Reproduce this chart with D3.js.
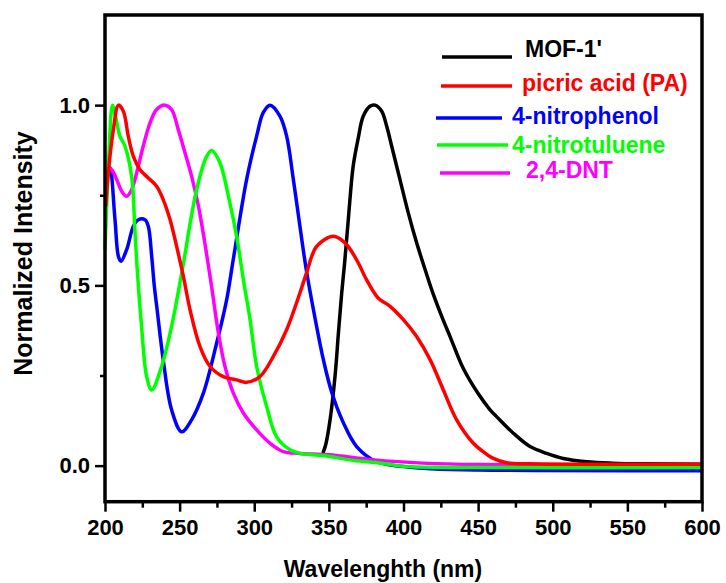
<!DOCTYPE html>
<html>
<head>
<meta charset="utf-8">
<script src="https://cdn.jsdelivr.net/npm/d3@7"></script>
<style>
  body { margin: 0; background: #fff; }
  svg { font-family: "Liberation Sans", Arial, sans-serif; font-weight: bold; }
</style>
</head>
<body>
<svg id="chart" width="726" height="583"></svg>
<script>
// spectra: [wavelength nm, normalized intensity]
var mof = [[346, 0.035], [348, 0.06], [350.8, 0.127], [354.1, 0.247], [356.4, 0.368], [358.6, 0.479],
  [360.5, 0.56], [363, 0.682], [366.3, 0.831], [369.7, 0.909], [373, 0.969], [377.5, 0.997], [380.9, 1.0],
  [385.4, 0.983], [388.7, 0.942], [392.1, 0.886], [397.6, 0.794], [403.2, 0.701], [408.8, 0.618],
  [414.4, 0.545], [420, 0.475], [426, 0.41], [431.2, 0.358], [440, 0.27], [450, 0.2],
  [458, 0.155], [462.4, 0.136], [473.6, 0.09], [484.8, 0.053], [496, 0.034], [507, 0.02], [522.7, 0.011],
  [540, 0.007], [560, 0.005], [600, 0.004]]
var picric = [[200.5, 0.72], [202.2, 0.812], [205.6, 0.932], [209, 1.0], [212.3, 0.983], [215.6, 0.914],
  [219, 0.858], [223.5, 0.821], [229, 0.798], [234.6, 0.775], [239, 0.738], [243.6, 0.682], [248, 0.608],
  [252.5, 0.525], [257, 0.432], [263.6, 0.331], [270.4, 0.275], [279.2, 0.247], [288.2, 0.238], [294.9, 0.231],
  [303.8, 0.247], [312.8, 0.303], [321.7, 0.377], [330.6, 0.479], [335, 0.534], [341.8, 0.608], [352.9, 0.636],
  [360.8, 0.618], [368.6, 0.571], [375.2, 0.516], [383, 0.465], [391, 0.442], [399.9, 0.405], [408.8, 0.358],
  [417.8, 0.294], [426.7, 0.21], [435.6, 0.127], [446.8, 0.062], [453, 0.04], [460.2, 0.02], [469, 0.008],
  [484.8, 0.005], [600, 0.004]]
var nitrophenol = [[202, 0.81], [203.4, 0.826], [206.7, 0.682], [209, 0.58], [210.7, 0.567], [214.5, 0.599],
  [219, 0.664], [222.3, 0.682], [226.8, 0.682], [229, 0.664], [231.3, 0.58], [233, 0.5], [235, 0.43],
  [239, 0.294], [244.6, 0.155], [251.4, 0.094], [258, 0.127], [265.9, 0.201], [274.8, 0.34], [281.5, 0.46],
  [285.9, 0.571], [294.9, 0.794], [301.6, 0.914], [306, 0.979], [310.6, 1.0], [317.3, 0.969], [321.7, 0.914],
  [326.2, 0.794], [330.6, 0.664], [335, 0.54], [341.8, 0.386], [346.3, 0.294], [351.8, 0.205],
  [359.6, 0.12], [368.6, 0.053], [382, 0.011], [413, -0.007], [450, -0.012], [600, -0.014]]
var nitrotoluene = [[200, 0.6], [202.5, 0.85], [205, 1.0], [207, 0.97], [210, 0.914], [213.4, 0.886],
  [217.9, 0.8], [220, 0.655], [221.5, 0.55], [224.5, 0.386], [227.9, 0.247], [231.3, 0.21], [237.9, 0.275],
  [244.6, 0.386], [251.4, 0.534], [261.4, 0.766], [268.1, 0.858], [271.5, 0.874], [277, 0.84], [282.7, 0.747],
  [288.2, 0.636], [292.7, 0.516], [297.2, 0.405], [301.6, 0.275], [308.3, 0.164], [315, 0.08], [324, 0.044],
  [330.6, 0.034], [346, 0.028], [366, 0.015], [386.5, 0.006], [400, -0.002], [430, -0.005], [600, -0.005]]
var dnt = [[202, 0.826], [204.5, 0.821], [207.8, 0.794], [211.2, 0.761], [214.5, 0.747], [217.9, 0.766],
  [221.2, 0.812], [225.6, 0.886], [230.2, 0.951], [234.6, 0.988], [240.2, 1.0], [244.6, 0.988], [249.1, 0.932],
  [253.6, 0.868], [258, 0.803], [262.5, 0.722], [267, 0.615], [271.5, 0.495], [275.9, 0.37], [280.4, 0.275],
  [286, 0.201], [292.7, 0.146], [301.6, 0.099], [310.6, 0.062], [319.5, 0.039], [330.6, 0.034], [350, 0.03],
  [380, 0.016], [413, 0.007], [450, 0.003], [600, 0.002]]

var seriesNames = ["MOF-1'", 'picric acid (PA)', '4-nitrophenol', '4-nitrotuluene', '2,4-DNT']
var seriesColors = ['#000000', '#ff0000', '#0000ff', '#00ff00', '#ff00ff']
var seriesData = [mof, picric, nitrophenol, nitrotoluene, dnt]
var drawOrder = [0, 2, 4, 3, 1]

var xMajor = [200, 250, 300, 350, 400, 450, 500, 550, 600]
var xMinor = [225, 275, 325, 375, 425, 475, 525, 575]
var yMajor = [0.0, 0.5, 1.0]
var yMinor = [0.25, 0.75]

// legend is placed by hand like in the original figure
var legendLayout = [
  { x1: 442, x2: 512, ly: 57, tx: 525, ty: 57 },
  { x1: 441, x2: 512, ly: 86, tx: 522, ty: 91 },
  { x1: 436, x2: 502, ly: 118, tx: 512, ty: 124 },
  { x1: 437, x2: 508, ly: 145, tx: 512, ty: 152.5 },
  { x1: 440, x2: 510, ly: 173, tx: 526, ty: 178 }
]

var dims = { left: 105, right: 702, top: 15, bottom: 501.7 }

var svg = d3.select('#chart')

var x = d3.scaleLinear().domain([200, 600]).range([dims.left, dims.right])
var y = d3.scaleLinear().domain([-0.1, 1.25]).range([dims.bottom, dims.top])

var plot = svg.append('g')
var line = d3.line()
  .x(d => x(d[0]))
  .y(d => y(d[1]))
  .curve(d3.curveCatmullRom.alpha(0.5))

drawOrder.forEach(function (i) {
  plot.append('path')
    .datum(seriesData[i])
    .attr('fill', 'none')
    .attr('stroke', seriesColors[i])
    .attr('stroke-width', 3.5)
    .attr('stroke-linejoin', 'round')
    .attr('d', line)
})

// axes
function styleAxis(g) {
  g.select('.domain').remove()
  g.selectAll('line').attr('stroke', '#000').attr('stroke-width', 2.5)
  g.selectAll('text').attr('fill', '#000').style('font-size', '22px')
    .style('font-family', '"Liberation Sans", Arial, sans-serif').style('font-weight', 'bold')
}

svg.append('g')
  .attr('transform', 'translate(0,' + dims.bottom + ')')
  .call(d3.axisBottom(x).tickValues(xMajor).tickSize(10).tickPadding(8).tickFormat(d3.format('d')))
  .call(styleAxis)
svg.append('g')
  .attr('transform', 'translate(0,' + dims.bottom + ')')
  .call(d3.axisBottom(x).tickValues(xMinor).tickSize(6).tickFormat(''))
  .call(styleAxis)
svg.append('g')
  .attr('transform', 'translate(' + dims.left + ',0)')
  .call(d3.axisLeft(y).tickValues(yMajor).tickSize(10).tickPadding(5).tickFormat(d3.format('.1f')))
  .call(styleAxis)
svg.append('g')
  .attr('transform', 'translate(' + dims.left + ',0)')
  .call(d3.axisLeft(y).tickValues(yMinor).tickSize(5).tickFormat(''))
  .call(styleAxis)

// frame
svg.append('rect')
  .attr('x', dims.left)
  .attr('y', dims.top)
  .attr('width', dims.right - dims.left)
  .attr('height', dims.bottom - dims.top)
  .attr('fill', 'none')
  .attr('stroke', '#000')
  .attr('stroke-width', 3.5)

// titles
svg.append('text')
  .attr('x', 383)
  .attr('y', 577)
  .attr('text-anchor', 'middle')
  .style('font-size', '23px')
  .text('Wavelenghth (nm)')

svg.append('text')
  .attr('transform', 'translate(32,253.5) rotate(-90)')
  .attr('text-anchor', 'middle')
  .style('font-size', '25px')
  .text('Normalized Intensity')

// legend
var legend = svg.append('g')
legendLayout.forEach(function (p, i) {
  legend.append('line')
    .attr('x1', p.x1).attr('x2', p.x2)
    .attr('y1', p.ly).attr('y2', p.ly)
    .attr('stroke', seriesColors[i])
    .attr('stroke-width', 3.5)
  legend.append('text')
    .attr('x', p.tx)
    .attr('y', p.ty)
    .attr('fill', seriesColors[i])
    .style('font-size', '23px')
    .text(seriesNames[i])
})
</script>
</body>
</html>
